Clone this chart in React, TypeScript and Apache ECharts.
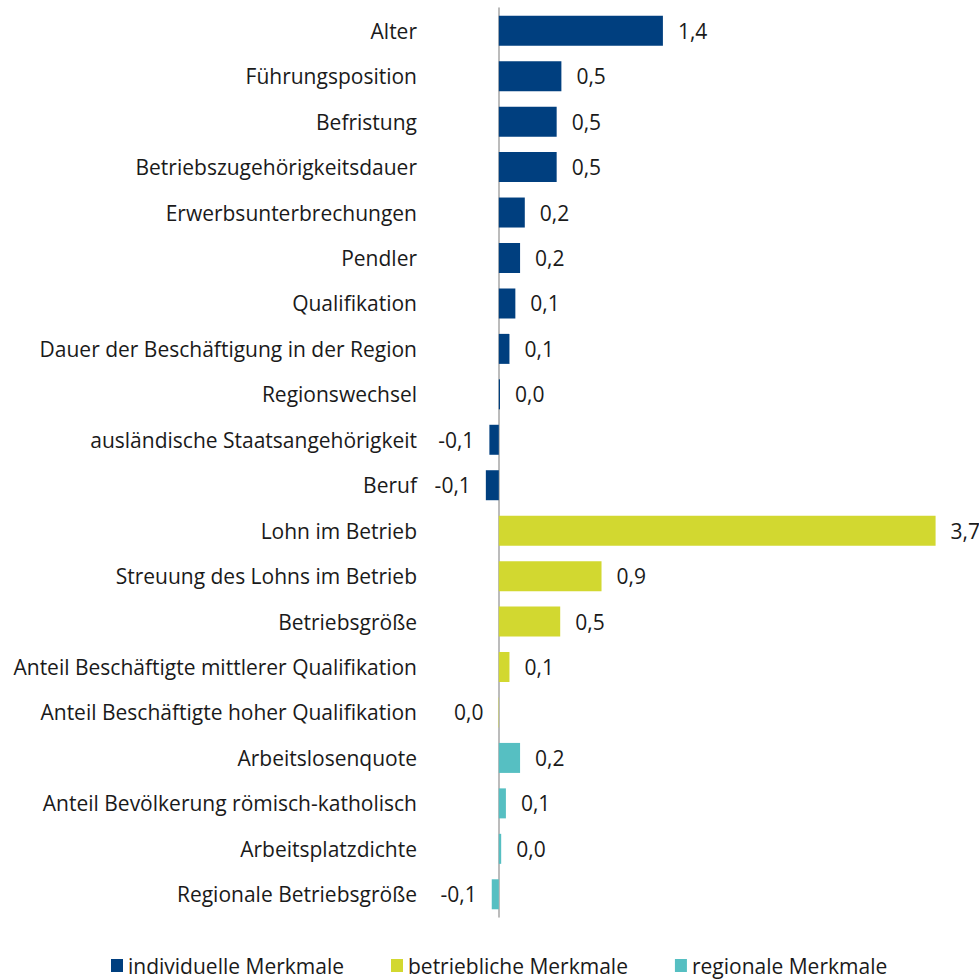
import React, { useEffect, useRef } from "react";
import * as echarts from "echarts";

const categories = [
  "Alter",
  "Führungsposition",
  "Befristung",
  "Betriebszugehörigkeitsdauer",
  "Erwerbsunterbrechungen",
  "Pendler",
  "Qualifikation",
  "Dauer der Beschäftigung in der Region",
  "Regionswechsel",
  "ausländische Staatsangehörigkeit",
  "Beruf",
  "Lohn im Betrieb",
  "Streuung des Lohns im Betrieb",
  "Betriebsgröße",
  "Anteil Beschäftigte mittlerer Qualifikation",
  "Anteil Beschäftigte hoher Qualifikation",
  "Arbeitslosenquote",
  "Anteil Bevölkerung römisch-katholisch",
  "Arbeitsplatzdichte",
  "Regionale Betriebsgröße",
];

const individuelle = [1.39, 0.53, 0.49, 0.49, 0.22, 0.18, 0.14, 0.09, 0.01, -0.08, -0.11, null, null, null, null, null, null, null, null, null];
const betriebliche = [null, null, null, null, null, null, null, null, null, null, null, 3.7, 0.87, 0.52, 0.09, -0.003, null, null, null, null];
const regionale = [null, null, null, null, null, null, null, null, null, null, null, null, null, null, null, null, 0.18, 0.06, 0.02, -0.06];

const seriesNames = ["individuelle Merkmale", "betriebliche Merkmale", "regionale Merkmale"];
const seriesColors = ["#003F7F", "#D2D830", "#56BFC2"];

const FONT = "Open Sans";
const FS = 21;

function fmt(v: number): string {
  if (Math.abs(v) < 0.05) return "0,0";
  return v.toFixed(1).replace(".", ",");
}

function buildData(arr: (number | null)[]) {
  return arr.map((v) =>
    v === null
      ? null
      : {
          value: v,
          label: { position: v < 0 ? "left" : "right" },
        }
  );
}

export default function App() {
  const ref = useRef<HTMLDivElement>(null);
  useEffect(() => {
    if (!ref.current) return;
    const chart = echarts.init(ref.current, undefined, { renderer: "svg" });
    const all = [individuelle, betriebliche, regionale];
    chart.setOption({
      animation: false,
      textStyle: { fontFamily: FONT },
      grid: { left: 428, right: 8, top: 8, bottom: 63, containLabel: false },
      legend: {
        top: 955,
        left: 111,
        padding: 0,
        icon: "rect",
        itemWidth: 12,
        itemHeight: 13,
        itemGap: 47,
        textStyle: { fontFamily: FONT, fontSize: FS, color: "#1a1a1a" },
        data: seriesNames,
      },
      xAxis: {
        type: "value",
        min: -0.6,
        max: 4.0,
        show: false,
        splitLine: { show: false },
      },
      yAxis: {
        type: "category",
        inverse: true,
        data: categories,
        axisLine: { show: true, onZero: true, lineStyle: { color: "#A6A6A6", width: 1.5 } },
        axisTick: { show: false },
        axisLabel: { margin: 11, fontFamily: FONT, fontSize: FS, color: "#1a1a1a" },
        splitLine: { show: false },
      },
      series: all.map((arr, i) => ({
        name: seriesNames[i],
        type: "bar",
        stack: "total",
        barWidth: 30,
        itemStyle: { color: seriesColors[i] },
        label: {
          show: true,
          distance: 15,
          fontFamily: FONT,
          fontSize: FS,
          color: "#1a1a1a",
          formatter: (p: any) => fmt(p.value),
        },
        data: buildData(arr),
      })),
    });
    return () => chart.dispose();
  }, []);
  return (
    <div
      ref={ref}
      style={{ position: "absolute", left: 0, top: 0, width: 979, height: 980 }}
    />
  );
}
